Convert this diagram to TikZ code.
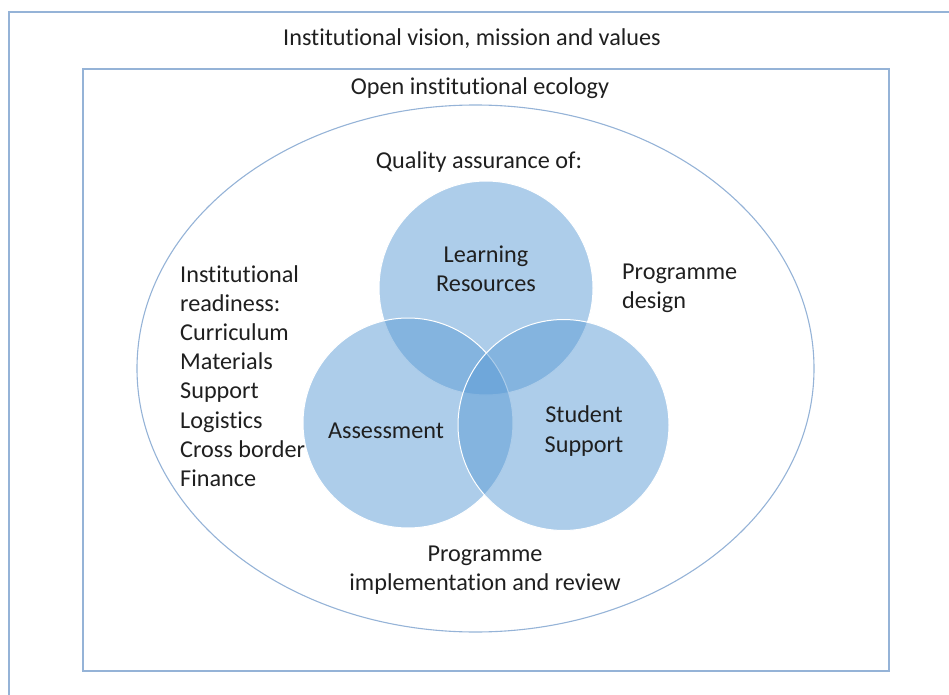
\documentclass[tikz,border=0pt]{standalone}
\usepackage{fontspec}
\setmainfont[RawFeature={-liga;-clig;-calt;-dlig;-rlig;-ccmp}]{Carlito}
\definecolor{frameblue}{RGB}{149,179,215}
\definecolor{vennblue}{RGB}{91,155,213}
\begin{document}
\begin{tikzpicture}[x=1bp,y=-1bp,
  txt/.style={inner sep=0pt,font=\fontsize{24.3}{29.3}\selectfont,text=black!88},
  venn/.style={fill=vennblue,fill opacity=0.5,draw=white,line width=1bp}]
\useasboundingbox (0,0) rectangle (949,695);
\clip (0,0) rectangle (949,695);
\draw[frameblue,line width=1.6bp] (9,12) rectangle (970,720);
\draw[frameblue,line width=1.6bp] (83,69) rectangle (889,671);
\draw[frameblue,line width=1.1bp] (475.5,368.5) ellipse [x radius=338.5,y radius=263.5];
\path[venn] (486,288) circle [radius=107];
\path[venn] (408,423) circle [radius=105];
\path[venn] (563.5,425) circle [radius=105.5];
\node[txt] (vision) at (472,39) {Institutional vision, mission and values};
\node[txt] (ecology) at (480,88) {Open institutional ecology};
\node[txt] (qa) at (479,162) {Quality assurance of:};
\node[txt,align=center] (lr) at (486,269) {Learning\\Resources};
\node[txt,align=left,anchor=west] (design) at (622,288) {Programme\\design};
\node[txt,align=left,anchor=west] (ready) at (180,376) {Institutional\\readiness:\\Curriculum\\Materials\\Support\\Logistics\\Cross border\\Finance};
\node[txt] (assess) at (386,431) {Assessment};
\node[txt,align=center] (ss) at (584,431) {Student\\Support};
\node[txt,align=center] (impl) at (485,570) {Programme\\implementation and review};
\end{tikzpicture}
\end{document}
